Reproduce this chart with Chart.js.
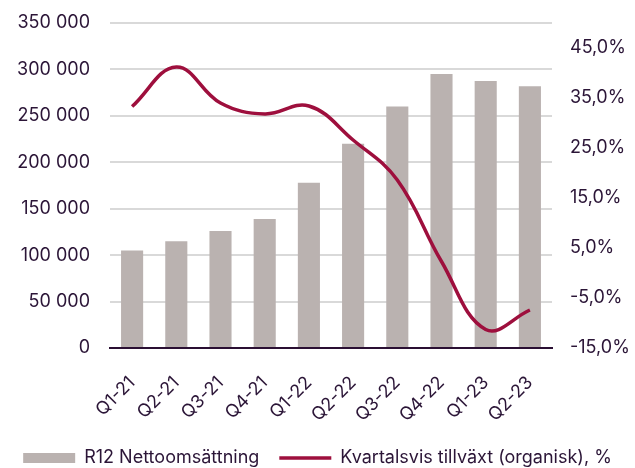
<!DOCTYPE html>
<html lang="sv">
<head>
<meta charset="utf-8">
<title>R12 Nettoomsättning och kvartalsvis tillväxt</title>
<script src="https://cdn.jsdelivr.net/npm/chart.js@4.4.1/dist/chart.umd.min.js"></script>
<style>
  html, body { margin: 0; padding: 0; background: #fff; }
  #wrap { width: 635px; height: 468px; position: relative; }
</style>
</head>
<body>
<div id="wrap"><canvas id="chart"></canvas></div>
<script>
// --- data ---
const quarters = ["Q1-21", "Q2-21", "Q3-21", "Q4-21", "Q1-22", "Q2-22", "Q3-22", "Q4-22", "Q1-23", "Q2-23"];
const netSales = [105000, 115000, 126000, 139000, 178000, 220000, 260000, 295000, 287500, 282000];
const growthPct = [33.3, 41.2, 34.0, 31.8, 33.4, 26.6, 18.6, 2.3, -11.3, -7.4];
const salesTicks = [0, 50000, 100000, 150000, 200000, 250000, 300000, 350000];
const growthTicks = [-15, -5, 5, 15, 25, 35, 45];

const TEXT = "#2b1537";
const BAR = "#bab2b0";
const LINE = "#9e0f3d";
const FONT = { family: "Inter, 'Liberation Sans', sans-serif", size: 18 };

const fmtSales = v => String(v).replace(/\B(?=(\d{3})+(?!\d))/g, " ");
const fmtPct = v => v.toFixed(1).replace(".", ",") + "%";

// fixed axis sizes so the plot area lands where the reference has it
const fixWidth = w => axis => {
  axis.width = w;
  axis.paddingTop = 0;
  axis.paddingBottom = 0;
};

new Chart(document.getElementById("chart"), {
  data: {
    labels: quarters,
    datasets: [
      {
        type: "line",
        label: "Kvartalsvis tillväxt (organisk), %",
        data: growthPct,
        yAxisID: "y1",
        borderColor: LINE,
        backgroundColor: LINE,
        borderWidth: 3.5,
        tension: 0.4,
        pointRadius: 0,
        order: 1
      },
      {
        type: "bar",
        label: "R12 Nettoomsättning",
        data: netSales,
        yAxisID: "y",
        backgroundColor: BAR,
        borderWidth: 0,
        barPercentage: 0.5,
        categoryPercentage: 1,
        order: 2
      }
    ]
  },
  options: {
    responsive: true,
    maintainAspectRatio: false,
    animation: false,
    layout: { padding: { top: 23, left: 0, right: 0, bottom: -9 } },
    plugins: {
      tooltip: { enabled: false },
      legend: {
        position: "bottom",
        reverse: true,
        labels: {
          color: TEXT,
          font: FONT,
          usePointStyle: true,
          pointStyleWidth: 52,
          boxHeight: 10,
          padding: 20,
          generateLabels: chart => {
            const items = Chart.defaults.plugins.legend.labels.generateLabels(chart);
            items.forEach(it => {
              const ds = chart.data.datasets[it.datasetIndex];
              if (ds.type === "line") {
                it.pointStyle = "line";
                it.strokeStyle = LINE;
                it.lineWidth = 3.5;
              } else {
                it.pointStyle = "rect";
                it.fillStyle = BAR;
                it.lineWidth = 0;
              }
            });
            return items;
          }
        }
      }
    },
    scales: {
      x: {
        grid: { display: false },
        border: { display: true, color: "#2a0f33", width: 2 },
        ticks: { color: TEXT, font: FONT, maxRotation: 45, minRotation: 45, padding: 16 },
        afterFit: axis => { axis.height = 81; }
      },
      y: {
        position: "left",
        min: 0,
        max: 350000,
        afterBuildTicks: axis => { axis.ticks = salesTicks.map(value => ({ value })); },
        grid: { color: "#d9d9d9", lineWidth: 2, drawTicks: false },
        border: { display: false },
        ticks: { color: TEXT, font: FONT, padding: 20, callback: fmtSales },
        afterFit: fixWidth(110)
      },
      y1: {
        position: "right",
        min: -15,
        max: 50,
        afterBuildTicks: axis => { axis.ticks = growthTicks.map(value => ({ value })); },
        grid: { display: false, drawTicks: false },
        border: { display: false },
        ticks: { color: TEXT, font: FONT, padding: 18, callback: fmtPct },
        afterFit: fixWidth(83)
      }
    }
  }
});
</script>
</body>
</html>
